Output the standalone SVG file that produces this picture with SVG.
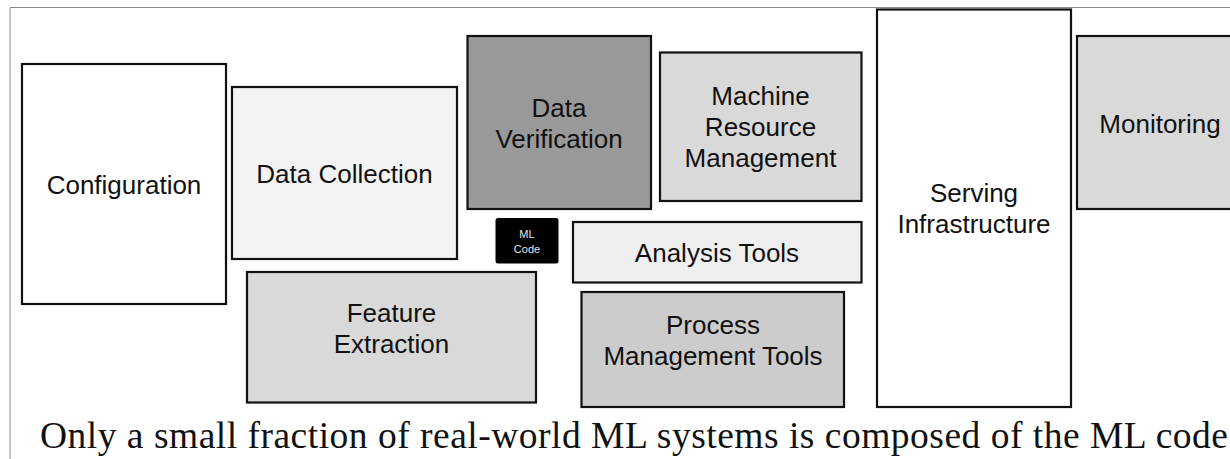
<svg xmlns="http://www.w3.org/2000/svg" width="1230" height="459" viewBox="0 0 1230 459">
<style>
.box{stroke:#111;stroke-width:2.2}
.lbl{font-family:"Liberation Sans",Arial,sans-serif;font-size:26px;fill:#111;text-anchor:middle}
.ml{font-family:"Liberation Sans",Arial,sans-serif;font-size:11px;fill:#e6e6e6;text-anchor:middle}
.cap{font-family:"Liberation Serif","Times New Roman",serif;font-size:37.5px;fill:#111}
</style>
<rect width="1230" height="459" fill="#fff"/>
<g id="frame">
<line x1="10" y1="7.5" x2="1230" y2="7.5" stroke="#8c8c8c" stroke-width="1"/>
<line x1="10" y1="7.5" x2="10" y2="459" stroke="#8c8c8c" stroke-width="1"/>
</g>
<g id="connectors"></g>
<g id="configuration">
<rect class="box" x="22" y="64" width="204" height="240" fill="#fff"/>
<text class="lbl" x="124" y="193.5">Configuration</text>
</g>
<g id="data-collection">
<rect class="box" x="232" y="87" width="225" height="172" fill="#f3f3f3"/>
<text class="lbl" x="344.5" y="182.5">Data Collection</text>
</g>
<g id="feature-extraction">
<rect class="box" x="247" y="272" width="289" height="130.5" fill="#d9d9d9"/>
<text class="lbl" x="391.5" y="321.5">Feature</text>
<text class="lbl" x="391.5" y="352.5">Extraction</text>
</g>
<g id="data-verification">
<rect class="box" x="467.5" y="36" width="183.5" height="173" fill="#999"/>
<text class="lbl" x="559" y="116.5">Data</text>
<text class="lbl" x="559" y="147.5">Verification</text>
</g>
<g id="ml-code">
<rect x="495.5" y="218" width="63" height="45.5" rx="2.5" fill="#000"/>
<text class="ml" x="527" y="237.5">ML</text>
<text class="ml" x="527" y="252.5">Code</text>
</g>
<g id="machine-resource-management">
<rect class="box" x="660" y="52.5" width="201.5" height="148.5" fill="#d9d9d9"/>
<text class="lbl" x="760.5" y="105">Machine</text>
<text class="lbl" x="760.5" y="136">Resource</text>
<text class="lbl" x="760.5" y="167">Management</text>
</g>
<g id="analysis-tools">
<rect class="box" x="573" y="222" width="288.5" height="60.5" fill="#efefef"/>
<text class="lbl" x="717" y="262">Analysis Tools</text>
</g>
<g id="process-management-tools">
<rect class="box" x="581.5" y="292" width="262.5" height="115" fill="#ccc"/>
<text class="lbl" x="713" y="334">Process</text>
<text class="lbl" x="713" y="365">Management Tools</text>
</g>
<g id="serving-infrastructure">
<rect class="box" x="877" y="9.5" width="194" height="397.5" fill="#fff"/>
<text class="lbl" x="974" y="201.5">Serving</text>
<text class="lbl" x="974" y="232.5">Infrastructure</text>
</g>
<g id="monitoring">
<rect class="box" x="1077" y="36" width="170" height="173" fill="#d9d9d9"/>
<text class="lbl" x="1160" y="132.5">Monitoring</text>
</g>
<text class="cap" x="40" y="448" textLength="1188" lengthAdjust="spacing">Only a small fraction of real-world ML systems is composed of the ML code</text>
</svg>
